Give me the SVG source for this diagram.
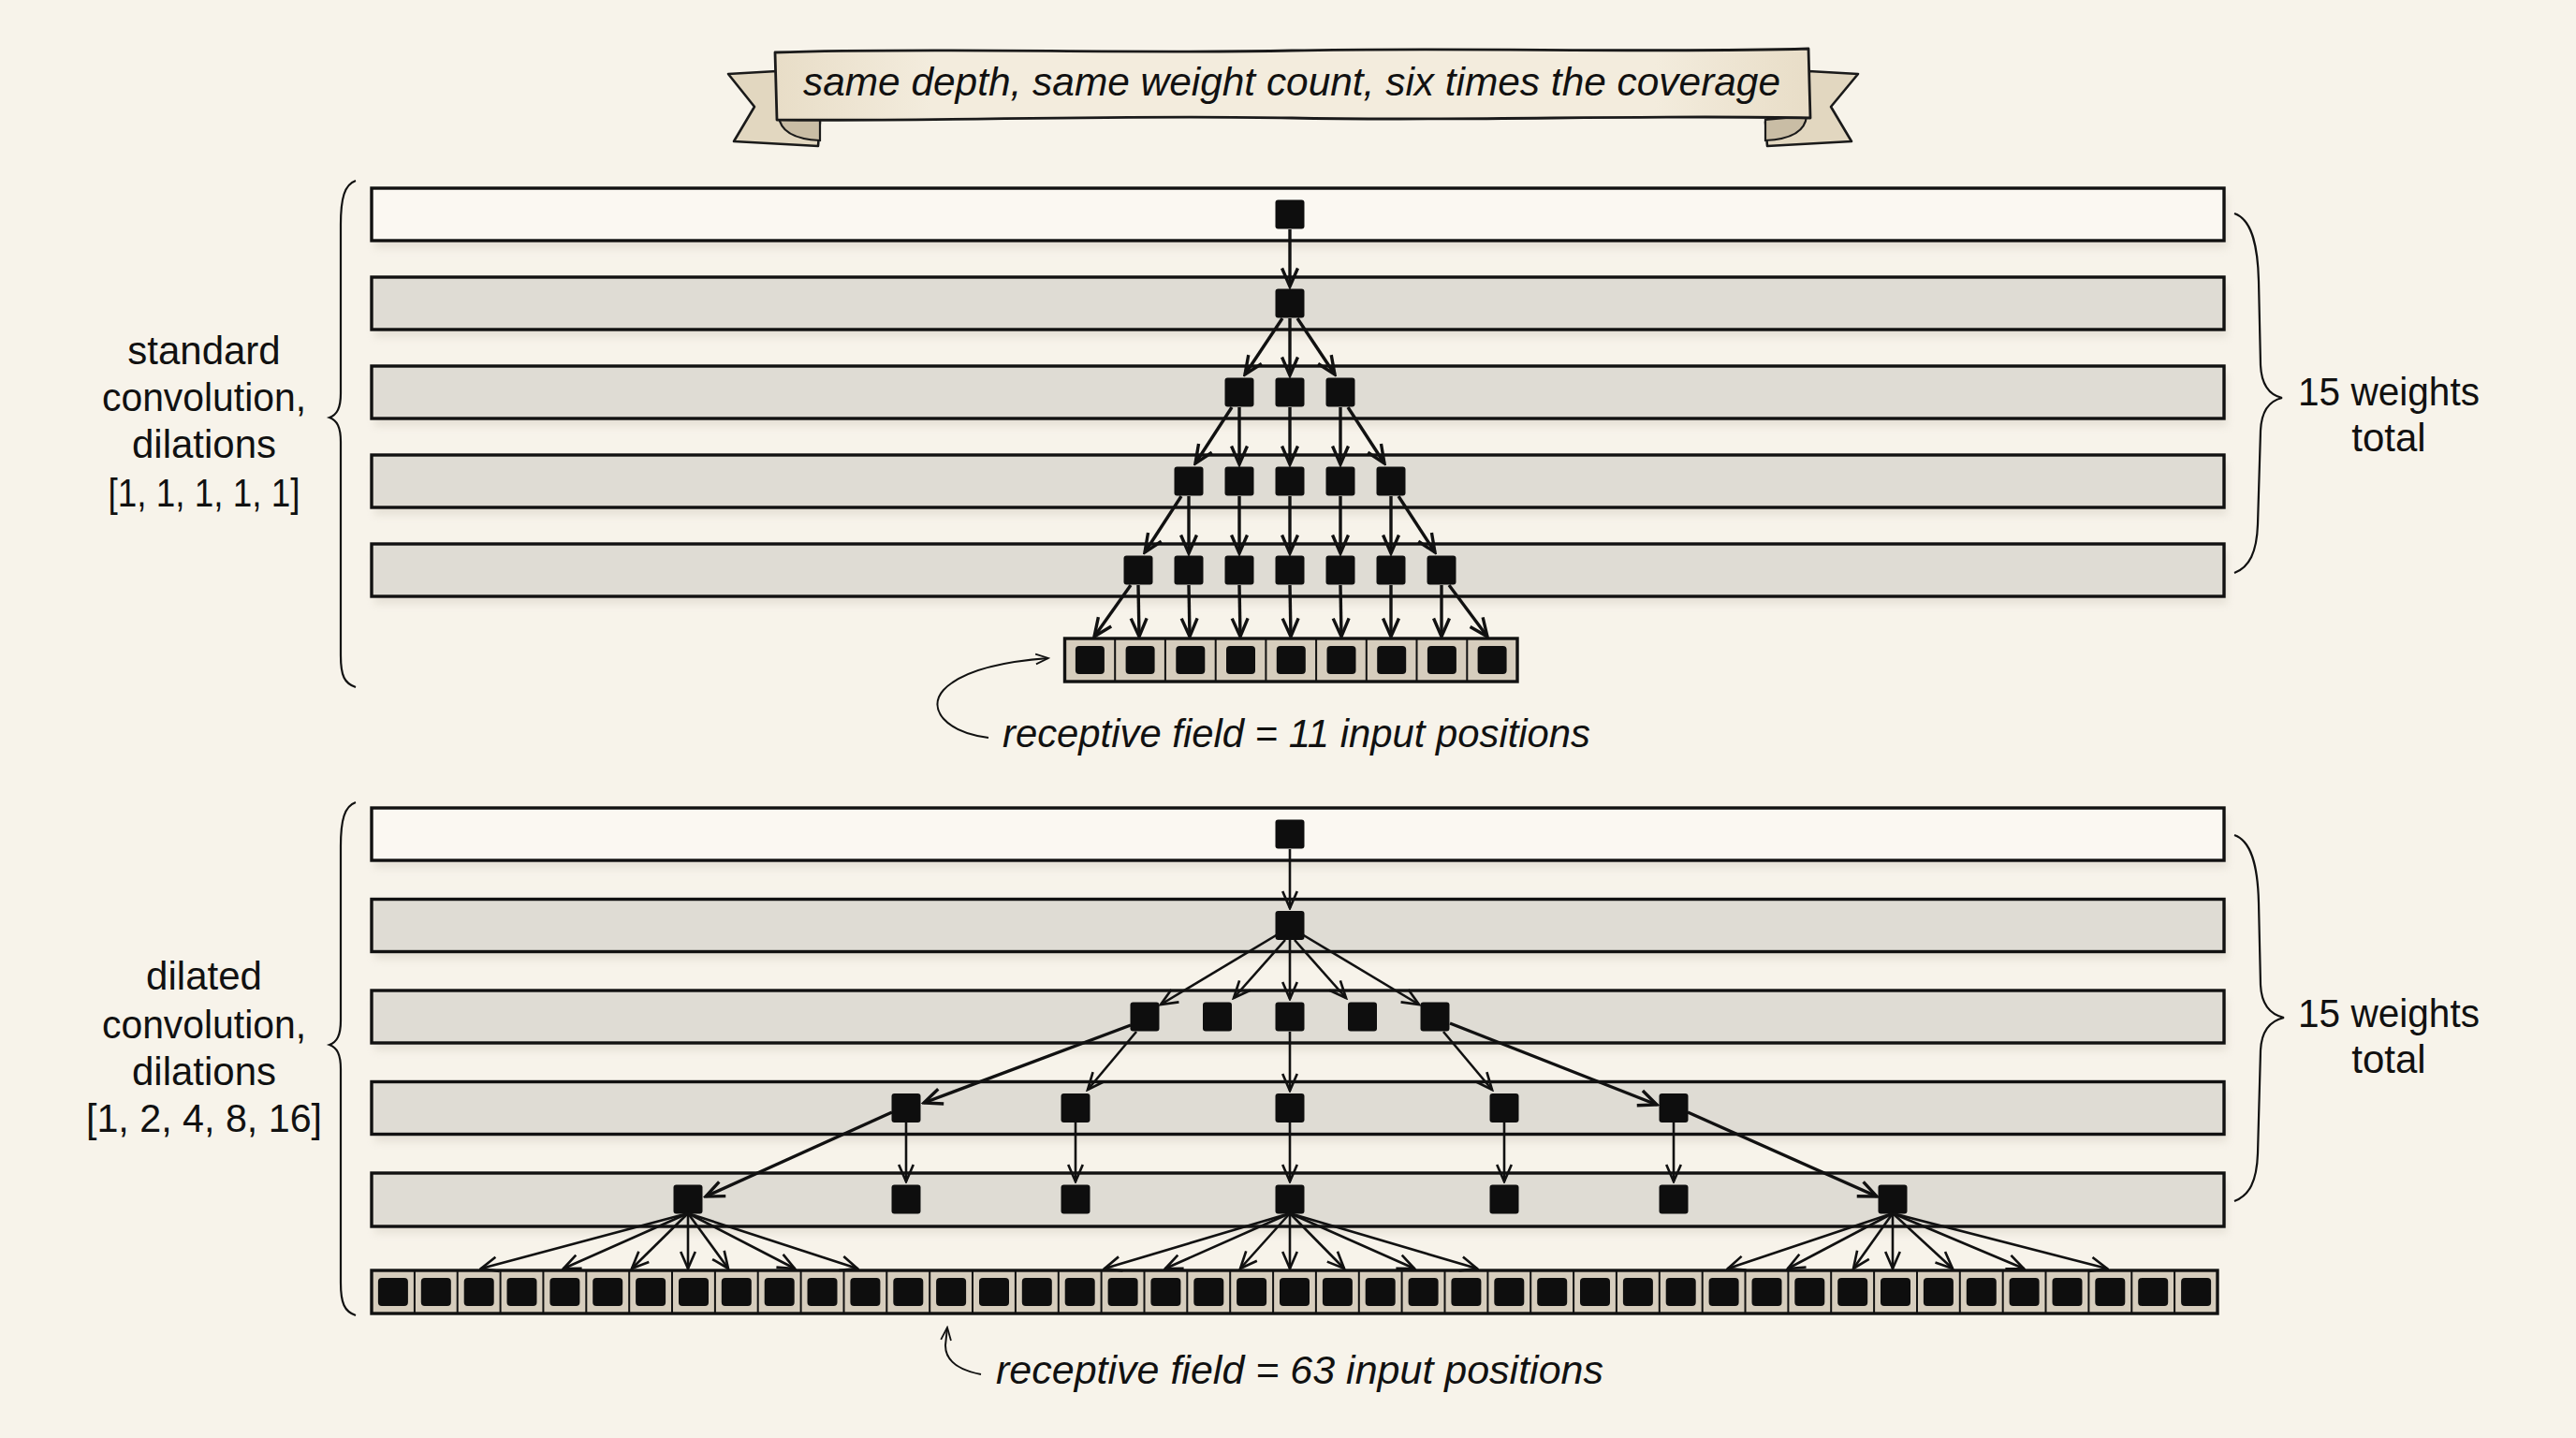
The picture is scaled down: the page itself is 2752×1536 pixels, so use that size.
<svg xmlns="http://www.w3.org/2000/svg" width="2752" height="1536" viewBox="0 0 2752 1536">
<defs>
<style>
.bg{fill:#f7f3ea}
.row{stroke:#111;stroke-width:3.4}
.r1{fill:#fbf8f2}
.rg{fill:#dfdcd4}
.sh{fill:#bdb6a8;opacity:.3;filter:url(#blur)}
.node{fill:#0e0e0e}
.strip{fill:#d6cdbd;stroke:#111;stroke-width:3.4}
.div{stroke:#111;stroke-width:2}
.cell{fill:#0e0e0e}
.a1{stroke:#111;stroke-width:3.4;fill:none;marker-end:url(#ah)}
.a2{stroke:#111;stroke-width:2.6;fill:none;marker-end:url(#ah2)}
.brace{stroke:#111;stroke-width:2.2;fill:none}
.lbl{font-family:'Liberation Sans','DejaVu Sans',sans-serif;font-size:42px;fill:#111;text-anchor:middle}
.it{font-family:'Liberation Sans','DejaVu Sans',sans-serif;font-size:42px;font-style:italic;fill:#111}
</style>
<filter id="blur" x="-5%" y="-50%" width="110%" height="200%"><feGaussianBlur stdDeviation="4"/></filter>
<linearGradient id="bn" x1="0" y1="0" x2="1" y2="0">
<stop offset="0" stop-color="#e8ddc7"/><stop offset=".15" stop-color="#f3ecdd"/><stop offset=".85" stop-color="#f3ecdd"/><stop offset="1" stop-color="#e8ddc7"/>
</linearGradient>
<marker id="ah" viewBox="0 0 20 20" refX="18" refY="10" markerWidth="26" markerHeight="26" markerUnits="userSpaceOnUse" orient="auto">
<path d="M3,3.5 L18,10 L3,16.5" fill="none" stroke="#111" stroke-width="2.6"/>
</marker>
<marker id="ah2" viewBox="0 0 20 20" refX="18" refY="10" markerWidth="24" markerHeight="24" markerUnits="userSpaceOnUse" orient="auto">
<path d="M3,3.5 L18,10 L3,16.5" fill="none" stroke="#111" stroke-width="2.2"/>
</marker>
<marker id="ah3" viewBox="0 0 20 20" refX="18" refY="10" markerWidth="18" markerHeight="18" markerUnits="userSpaceOnUse" orient="auto">
<path d="M3,4 L18,10 L3,16" fill="none" stroke="#111" stroke-width="2"/>
</marker>
</defs>
<rect class="bg" x="0" y="0" width="2752" height="1536"/>

<g id="banner">
<path d="M876,130 L874,156 L784,151 L806,114 L778,79 L830,76 Z" fill="#e2d7c0" stroke="#1a1a1a" stroke-width="2.6" stroke-linejoin="round"/>
<path d="M832,124 Q834,148 876,150 L876,128 Z" fill="#c9bda5" stroke="#1a1a1a" stroke-width="2.2"/>
<path d="M1886,130 L1888,156 L1978,151 L1956,114 L1985,79 L1932,76 Z" fill="#e2d7c0" stroke="#1a1a1a" stroke-width="2.6" stroke-linejoin="round"/>
<path d="M1930,124 Q1928,148 1886,150 L1886,128 Z" fill="#c9bda5" stroke="#1a1a1a" stroke-width="2.2"/>
<path d="M828,56 C1000,50 1200,58 1380,54 C1560,50 1760,57 1932,52 L1934,126 C1760,122 1560,130 1380,126 C1200,122 1000,130 830,128 Z" fill="url(#bn)" stroke="#1a1a1a" stroke-width="2.8" stroke-linejoin="round"/>
<text class="it" x="1380" y="102" font-size="40" text-anchor="middle" textLength="1044" lengthAdjust="spacingAndGlyphs">same depth, same weight count, six times the coverage</text>
</g>

<g id="standard-section">
<g id="std-rows">
<rect class="sh" x="400" y="209" width="1979" height="56"/>
<rect class="sh" x="400" y="304" width="1979" height="56"/>
<rect class="sh" x="400" y="399" width="1979" height="56"/>
<rect class="sh" x="400" y="494" width="1979" height="56"/>
<rect class="sh" x="400" y="589" width="1979" height="56"/>
<rect id="std-l1" class="row r1" x="397" y="201" width="1979" height="56"/>
<rect id="std-l2" class="row rg" x="397" y="296" width="1979" height="56"/>
<rect id="std-l3" class="row rg" x="397" y="391" width="1979" height="56"/>
<rect id="std-l4" class="row rg" x="397" y="486" width="1979" height="56"/>
<rect id="std-l5" class="row rg" x="397" y="581" width="1979" height="56"/>
</g>
<g id="std-input">
<rect class="strip" x="1137.5" y="682" width="483.5" height="46"/>
<path class="div" d="M1191.2,682V728M1244.9,682V728M1298.7,682V728M1352.4,682V728M1406.1,682V728M1459.8,682V728M1513.5,682V728M1567.3,682V728"/>
<rect class="cell" x="1148.9" y="690" width="31" height="30" rx="4"/>
<rect class="cell" x="1202.6" y="690" width="31" height="30" rx="4"/>
<rect class="cell" x="1256.3" y="690" width="31" height="30" rx="4"/>
<rect class="cell" x="1310.0" y="690" width="31" height="30" rx="4"/>
<rect class="cell" x="1363.8" y="690" width="31" height="30" rx="4"/>
<rect class="cell" x="1417.5" y="690" width="31" height="30" rx="4"/>
<rect class="cell" x="1471.2" y="690" width="31" height="30" rx="4"/>
<rect class="cell" x="1524.9" y="690" width="31" height="30" rx="4"/>
<rect class="cell" x="1578.6" y="690" width="31" height="30" rx="4"/>
</g>
<g id="std-nodes">
<rect id="s1a" class="node" x="1362.5" y="213.5" width="31" height="31" rx="3"/>
<rect id="s2a" class="node" x="1362.5" y="308.5" width="31" height="31" rx="3"/>
<rect id="s3a" class="node" x="1308.5" y="403.5" width="31" height="31" rx="3"/>
<rect id="s3b" class="node" x="1362.5" y="403.5" width="31" height="31" rx="3"/>
<rect id="s3c" class="node" x="1416.5" y="403.5" width="31" height="31" rx="3"/>
<rect id="s4a" class="node" x="1254.5" y="498.5" width="31" height="31" rx="3"/>
<rect id="s4b" class="node" x="1308.5" y="498.5" width="31" height="31" rx="3"/>
<rect id="s4c" class="node" x="1362.5" y="498.5" width="31" height="31" rx="3"/>
<rect id="s4d" class="node" x="1416.5" y="498.5" width="31" height="31" rx="3"/>
<rect id="s4e" class="node" x="1470.5" y="498.5" width="31" height="31" rx="3"/>
<rect id="s5a" class="node" x="1200.5" y="593.5" width="31" height="31" rx="3"/>
<rect id="s5b" class="node" x="1254.5" y="593.5" width="31" height="31" rx="3"/>
<rect id="s5c" class="node" x="1308.5" y="593.5" width="31" height="31" rx="3"/>
<rect id="s5d" class="node" x="1362.5" y="593.5" width="31" height="31" rx="3"/>
<rect id="s5e" class="node" x="1416.5" y="593.5" width="31" height="31" rx="3"/>
<rect id="s5f" class="node" x="1470.5" y="593.5" width="31" height="31" rx="3"/>
<rect id="s5g" class="node" x="1524.5" y="593.5" width="31" height="31" rx="3"/>
</g>
<g id="std-labels">
<text class="lbl" x="218" y="389">standard</text>
<text class="lbl" x="218" y="439" textLength="218" lengthAdjust="spacingAndGlyphs">convolution,</text>
<text class="lbl" x="218" y="489">dilations</text>
<text class="lbl" x="218" y="541" textLength="205" lengthAdjust="spacingAndGlyphs">[1, 1, 1, 1, 1]</text>
<text class="lbl" x="2552" y="433" textLength="194" lengthAdjust="spacingAndGlyphs">15 weights</text>
<text class="lbl" x="2552" y="482">total</text>
<text class="it" x="1071" y="798" textLength="628" lengthAdjust="spacingAndGlyphs">receptive field = 11 input positions</text>
</g>
</g>

<g id="dilated-section">
<g id="dil-rows">
<rect class="sh" x="400" y="871" width="1979" height="56"/>
<rect class="sh" x="400" y="968.5" width="1979" height="56"/>
<rect class="sh" x="400" y="1066" width="1979" height="56"/>
<rect class="sh" x="400" y="1163.5" width="1979" height="56"/>
<rect class="sh" x="400" y="1261" width="1979" height="56"/>
<rect id="dil-l1" class="row r1" x="397" y="863" width="1979" height="56"/>
<rect id="dil-l2" class="row rg" x="397" y="960.5" width="1979" height="56"/>
<rect id="dil-l3" class="row rg" x="397" y="1058" width="1979" height="56"/>
<rect id="dil-l4" class="row rg" x="397" y="1155.5" width="1979" height="56"/>
<rect id="dil-l5" class="row rg" x="397" y="1253" width="1979" height="57"/>
</g>
<g id="dil-input">
<rect class="strip" x="397" y="1357" width="1972" height="46"/>
<path class="div" d="M442.9,1357V1403M488.7,1357V1403M534.6,1357V1403M580.4,1357V1403M626.3,1357V1403M672.2,1357V1403M718.0,1357V1403M763.9,1357V1403M809.7,1357V1403M855.6,1357V1403M901.5,1357V1403M947.3,1357V1403M993.2,1357V1403M1039.0,1357V1403M1084.9,1357V1403M1130.8,1357V1403M1176.6,1357V1403M1222.5,1357V1403M1268.3,1357V1403M1314.2,1357V1403M1360.1,1357V1403M1405.9,1357V1403M1451.8,1357V1403M1497.6,1357V1403M1543.5,1357V1403M1589.4,1357V1403M1635.2,1357V1403M1681.1,1357V1403M1726.9,1357V1403M1772.8,1357V1403M1818.7,1357V1403M1864.5,1357V1403M1910.4,1357V1403M1956.2,1357V1403M2002.1,1357V1403M2048.0,1357V1403M2093.8,1357V1403M2139.7,1357V1403M2185.5,1357V1403M2231.4,1357V1403M2277.3,1357V1403M2323.1,1357V1403"/>
<g class="cell">
<rect x="403.9" y="1365" width="32" height="30" rx="4"/>
<rect x="449.8" y="1365" width="32" height="30" rx="4"/>
<rect x="495.7" y="1365" width="32" height="30" rx="4"/>
<rect x="541.5" y="1365" width="32" height="30" rx="4"/>
<rect x="587.4" y="1365" width="32" height="30" rx="4"/>
<rect x="633.2" y="1365" width="32" height="30" rx="4"/>
<rect x="679.1" y="1365" width="32" height="30" rx="4"/>
<rect x="725.0" y="1365" width="32" height="30" rx="4"/>
<rect x="770.8" y="1365" width="32" height="30" rx="4"/>
<rect x="816.7" y="1365" width="32" height="30" rx="4"/>
<rect x="862.5" y="1365" width="32" height="30" rx="4"/>
<rect x="908.4" y="1365" width="32" height="30" rx="4"/>
<rect x="954.3" y="1365" width="32" height="30" rx="4"/>
<rect x="1000.1" y="1365" width="32" height="30" rx="4"/>
<rect x="1046.0" y="1365" width="32" height="30" rx="4"/>
<rect x="1091.8" y="1365" width="32" height="30" rx="4"/>
<rect x="1137.7" y="1365" width="32" height="30" rx="4"/>
<rect x="1183.6" y="1365" width="32" height="30" rx="4"/>
<rect x="1229.4" y="1365" width="32" height="30" rx="4"/>
<rect x="1275.3" y="1365" width="32" height="30" rx="4"/>
<rect x="1321.1" y="1365" width="32" height="30" rx="4"/>
<rect x="1367.0" y="1365" width="32" height="30" rx="4"/>
<rect x="1412.9" y="1365" width="32" height="30" rx="4"/>
<rect x="1458.7" y="1365" width="32" height="30" rx="4"/>
<rect x="1504.6" y="1365" width="32" height="30" rx="4"/>
<rect x="1550.4" y="1365" width="32" height="30" rx="4"/>
<rect x="1596.3" y="1365" width="32" height="30" rx="4"/>
<rect x="1642.2" y="1365" width="32" height="30" rx="4"/>
<rect x="1688.0" y="1365" width="32" height="30" rx="4"/>
<rect x="1733.9" y="1365" width="32" height="30" rx="4"/>
<rect x="1779.7" y="1365" width="32" height="30" rx="4"/>
<rect x="1825.6" y="1365" width="32" height="30" rx="4"/>
<rect x="1871.5" y="1365" width="32" height="30" rx="4"/>
<rect x="1917.3" y="1365" width="32" height="30" rx="4"/>
<rect x="1963.2" y="1365" width="32" height="30" rx="4"/>
<rect x="2009.0" y="1365" width="32" height="30" rx="4"/>
<rect x="2054.9" y="1365" width="32" height="30" rx="4"/>
<rect x="2100.8" y="1365" width="32" height="30" rx="4"/>
<rect x="2146.6" y="1365" width="32" height="30" rx="4"/>
<rect x="2192.5" y="1365" width="32" height="30" rx="4"/>
<rect x="2238.3" y="1365" width="32" height="30" rx="4"/>
<rect x="2284.2" y="1365" width="32" height="30" rx="4"/>
<rect x="2330.1" y="1365" width="32" height="30" rx="4"/>
</g>
</g>
<g id="dil-nodes">
<rect id="d1a" class="node" x="1362.5" y="875.5" width="31" height="31" rx="3"/>
<rect id="d2a" class="node" x="1362.5" y="973" width="31" height="31" rx="3"/>
<rect id="d3a" class="node" x="1207.5" y="1070.5" width="31" height="31" rx="3"/>
<rect id="d3b" class="node" x="1285" y="1070.5" width="31" height="31" rx="3"/>
<rect id="d3c" class="node" x="1362.5" y="1070.5" width="31" height="31" rx="3"/>
<rect id="d3d" class="node" x="1440" y="1070.5" width="31" height="31" rx="3"/>
<rect id="d3e" class="node" x="1517.5" y="1070.5" width="31" height="31" rx="3"/>
<rect id="d4a" class="node" x="952.5" y="1168" width="31" height="31" rx="3"/>
<rect id="d4b" class="node" x="1133.5" y="1168" width="31" height="31" rx="3"/>
<rect id="d4c" class="node" x="1362.5" y="1168" width="31" height="31" rx="3"/>
<rect id="d4d" class="node" x="1591.5" y="1168" width="31" height="31" rx="3"/>
<rect id="d4e" class="node" x="1772.5" y="1168" width="31" height="31" rx="3"/>
<rect id="d5a" class="node" x="719.5" y="1265.5" width="31" height="31" rx="3"/>
<rect id="d5b" class="node" x="952.5" y="1265.5" width="31" height="31" rx="3"/>
<rect id="d5c" class="node" x="1133.5" y="1265.5" width="31" height="31" rx="3"/>
<rect id="d5d" class="node" x="1362.5" y="1265.5" width="31" height="31" rx="3"/>
<rect id="d5e" class="node" x="1591.5" y="1265.5" width="31" height="31" rx="3"/>
<rect id="d5f" class="node" x="1772.5" y="1265.5" width="31" height="31" rx="3"/>
<rect id="d5g" class="node" x="2006.5" y="1265.5" width="31" height="31" rx="3"/>
</g>
<g id="dil-labels">
<text class="lbl" x="218" y="1057">dilated</text>
<text class="lbl" x="218" y="1109" textLength="218" lengthAdjust="spacingAndGlyphs">convolution,</text>
<text class="lbl" x="218" y="1159">dilations</text>
<text class="lbl" x="218" y="1209" textLength="252" lengthAdjust="spacingAndGlyphs">[1, 2, 4, 8, 16]</text>
<text class="lbl" x="2552" y="1097" textLength="194" lengthAdjust="spacingAndGlyphs">15 weights</text>
<text class="lbl" x="2552" y="1146">total</text>
<text class="it" x="1064" y="1478" textLength="649" lengthAdjust="spacingAndGlyphs">receptive field = 63 input positions</text>
</g>
</g>

<g id="braces">
<path class="brace" d="M380,193 C368,197 364,212 364,240 L364,420 C364,436 360,443 352,446 C360,449 364,456 364,472 L364,700 C364,722 368,730 380,734"/>
<path class="brace" d="M2387,228 C2405,234 2412,260 2413,300 L2415,390 C2416,412 2425,422 2438,425 C2425,428 2416,438 2415,460 L2412,560 C2411,590 2403,606 2387,612"/>
<path class="brace" d="M380,857 C368,861 364,876 364,904 L364,1090 C364,1106 360,1113 352,1116 C360,1119 364,1126 364,1142 L364,1370 C364,1392 368,1401 380,1405"/>
<path class="brace" d="M2387,892 C2405,898 2412,924 2413,964 L2415,1052 C2416,1074 2427,1084 2440,1087 C2427,1090 2416,1100 2415,1122 L2412,1232 C2411,1262 2403,1277 2387,1283"/>
</g>

<g id="connectors">
<g id="std-arrows">
<path class="a1" d="M1378,245 L1378,306"/>
<path class="a1" d="M1370,340 L1330,400"/>
<path class="a1" d="M1378,340 L1378,401"/>
<path class="a1" d="M1386,340 L1426,400"/>
<path class="a1" d="M1316,435 L1277,495"/>
<path class="a1" d="M1324,435 L1324,496"/>
<path class="a1" d="M1378,435 L1378,496"/>
<path class="a1" d="M1432,435 L1432,496"/>
<path class="a1" d="M1440,435 L1479,495"/>
<path class="a1" d="M1262,530 L1223,590"/>
<path class="a1" d="M1270,530 L1270,591"/>
<path class="a1" d="M1324,530 L1324,591"/>
<path class="a1" d="M1378,530 L1378,591"/>
<path class="a1" d="M1432,530 L1432,591"/>
<path class="a1" d="M1486,530 L1486,591"/>
<path class="a1" d="M1494,530 L1533,590"/>
<path class="a1" d="M1208,625 L1169,680"/>
<path class="a1" d="M1216,625 L1217,680"/>
<path class="a1" d="M1270,625 L1271,680"/>
<path class="a1" d="M1324,625 L1325,680"/>
<path class="a1" d="M1378,625 L1379,680"/>
<path class="a1" d="M1432,625 L1433,680"/>
<path class="a1" d="M1486,625 L1486,680"/>
<path class="a1" d="M1540,625 L1540,680"/>
<path class="a1" d="M1548,625 L1589,680"/>
<path d="M1056,788 C1010,782 990,757 1008,737 C1026,718 1066,707 1120,703" fill="none" stroke="#111" stroke-width="2" marker-end="url(#ah3)"/>
</g>
<g id="dil-arrows">
<path class="a2" d="M1378,907 L1378,970"/>
<path class="a2" d="M1365,998 L1240,1073"/>
<path class="a2" d="M1373,1004 L1318,1066"/>
<path class="a2" d="M1378,1004 L1378,1067"/>
<path class="a2" d="M1383,1004 L1438,1066"/>
<path class="a2" d="M1391,998 L1516,1073"/>
<path class="a1" d="M1208,1095 L987,1178"/>
<path class="a2" d="M1214,1102 L1162,1164"/>
<path class="a2" d="M1378,1102 L1378,1165"/>
<path class="a2" d="M1542,1102 L1594,1164"/>
<path class="a1" d="M1549,1093 L1770,1180"/>
<path class="a1" d="M953,1188 L754,1278"/>
<path class="a2" d="M968,1199 L968,1262"/>
<path class="a2" d="M1149,1199 L1149,1262"/>
<path class="a2" d="M1378,1199 L1378,1262"/>
<path class="a2" d="M1607,1199 L1607,1262"/>
<path class="a2" d="M1788,1199 L1788,1262"/>
<path class="a1" d="M1803,1188 L2005,1278"/>
<path class="a2" d="M735,1296 L514,1355"/>
<path class="a2" d="M735,1296 L602,1355"/>
<path class="a2" d="M735,1296 L675,1355"/>
<path class="a2" d="M735,1296 L735,1355"/>
<path class="a2" d="M735,1296 L778,1355"/>
<path class="a2" d="M735,1296 L849,1355"/>
<path class="a2" d="M735,1296 L916,1355"/>
<path class="a2" d="M1378,1296 L1180,1355"/>
<path class="a2" d="M1378,1296 L1245,1355"/>
<path class="a2" d="M1378,1296 L1325,1355"/>
<path class="a2" d="M1378,1296 L1378,1355"/>
<path class="a2" d="M1378,1296 L1436,1355"/>
<path class="a2" d="M1378,1296 L1511,1355"/>
<path class="a2" d="M1378,1296 L1578,1355"/>
<path class="a2" d="M2022,1296 L1846,1355"/>
<path class="a2" d="M2022,1296 L1910,1355"/>
<path class="a2" d="M2022,1296 L1980,1355"/>
<path class="a2" d="M2022,1296 L2022,1355"/>
<path class="a2" d="M2022,1296 L2086,1355"/>
<path class="a2" d="M2022,1296 L2162,1355"/>
<path class="a2" d="M2022,1296 L2251,1355"/>
<path d="M1048,1468 C1022,1463 1010,1452 1010,1437 L1012,1418" fill="none" stroke="#111" stroke-width="2" marker-end="url(#ah3)"/>
</g>
</g>
</svg>
